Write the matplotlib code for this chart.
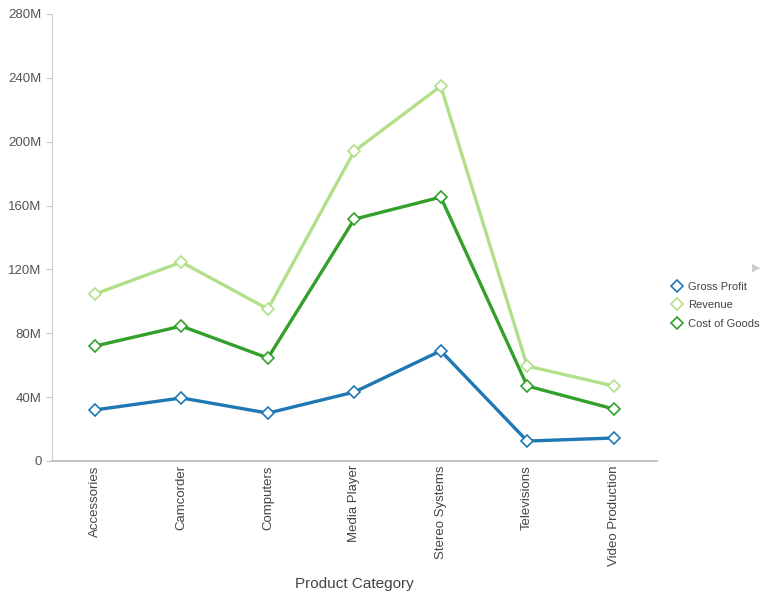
import matplotlib
matplotlib.use("Agg")
import matplotlib.pyplot as plt
from matplotlib.ticker import FuncFormatter

categories = ["Accessories", "Camcorder", "Computers", "Media Player",
              "Stereo Systems", "Televisions", "Video Production"]
gross_profit = [32.0, 39.5, 30.0, 43.2, 69.0, 12.5, 14.4]
revenue = [104.6, 124.6, 95.2, 194.1, 234.8, 59.5, 47.0]
cost_of_goods = [72.0, 84.5, 64.5, 151.5, 165.3, 47.0, 32.6]
series_names = ["Gross Profit", "Revenue", "Cost of Goods"]
yticks = [0, 40, 80, 120, 160, 200, 240, 280]

colors = ["#1f78b4", "#b2df8a", "#33a02c"]

plt.rcParams['font.family'] = ['Liberation Sans', 'DejaVu Sans']
fig = plt.figure(figsize=(7.62, 5.93), dpi=100)
ax = fig.add_axes([0.068, 0.2226, 0.794, 0.7538])

x = list(range(len(categories)))
for vals, name, c in zip([gross_profit, revenue, cost_of_goods], series_names, colors):
    ax.plot(x, vals, color=c, lw=2.4, marker="D", markersize=6.5,
            markerfacecolor="white", markeredgecolor=c, markeredgewidth=1.2,
            label=name, zorder=3)

ax.set_xlim(-0.5, len(categories) - 0.5)
ax.set_ylim(0, 280)
ax.set_yticks(yticks)
ax.yaxis.set_major_formatter(FuncFormatter(lambda v, p: "0" if v == 0 else f"{int(v)}M"))
ax.set_xticks(x)
ax.set_xticklabels(categories, rotation=90)

for s in ["top", "right"]:
    ax.spines[s].set_visible(False)
ax.spines["left"].set_color("#d0d0d0")
ax.spines["bottom"].set_color("#b8b8b8")
ax.spines["bottom"].set_linewidth(1.2)
ax.tick_params(axis="y", colors="#555555", labelsize=9.5, length=4, color="#c8c8c8")
ax.tick_params(axis="x", colors="#444444", labelsize=9.5, length=0, pad=3)

ax.set_xlabel("Product Category", fontsize=11, color="#444444", labelpad=8)

leg = fig.legend(loc="upper left", bbox_to_anchor=(0.876, 0.532), frameon=False,
                 fontsize=8, labelcolor="#444444", handlelength=0.9,
                 handletextpad=0.55, labelspacing=0.75, borderaxespad=0.0)
for h in leg.legend_handles:
    h.set_linestyle("none")
    h.set_markersize(6.5)

fig.text(0.992, 0.549, "\u25B6", color="#cccccc", fontsize=8, ha="center", va="center",
         family=['DejaVu Sans'])

fig.savefig("out.png", dpi=100)
